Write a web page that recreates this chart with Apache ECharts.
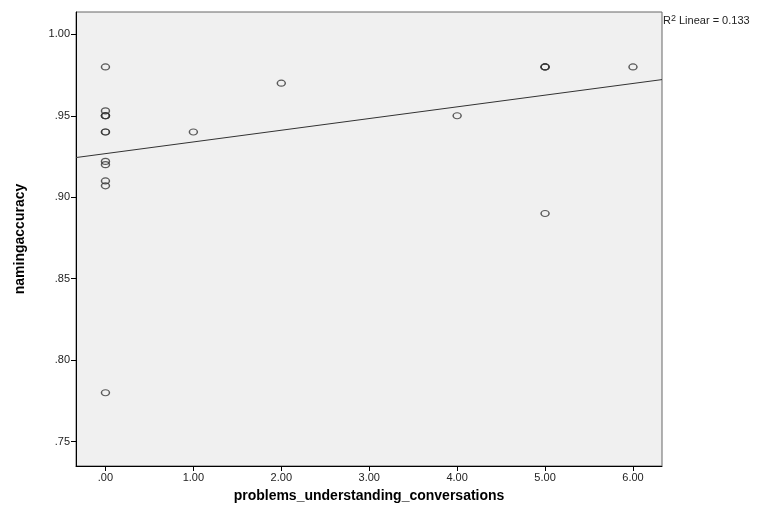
<!DOCTYPE html>
<html><head><meta charset="utf-8">
<script src="https://cdn.jsdelivr.net/npm/echarts@6/dist/echarts.min.js"></script>
<style>html,body{margin:0;padding:0;background:#fff}#c{width:771px;height:516px}</style>
</head><body><div id="c"></div>
<script>
// data
const xValues = [0,0,0,0,0,0,0,0,0,0,0,0, 1, 2, 4, 5,5,5, 5, 6];
const yValues = [0.98,0.953,0.95,0.95,0.94,0.94,0.922,0.92,0.91,0.907,0.78,0.95, 0.94, 0.97, 0.95, 0.98,0.98,0.98, 0.89, 0.98];
const xTicks = [0,1,2,3,4,5,6];
const yTicks = [0.75,0.80,0.85,0.90,0.95,1.00];
const r2Text = '0.133';

const points = xValues.map((x,i)=>[x,yValues[i]]);
// least squares fit
const n = points.length;
const mx = xValues.reduce((a,b)=>a+b,0)/n;
const my = yValues.reduce((a,b)=>a+b,0)/n;
let sxy=0,sxx=0;
points.forEach(([x,y])=>{sxy+=(x-mx)*(y-my);sxx+=(x-mx)*(x-mx);});
const slope = sxy/sxx, intercept = my - slope*mx;
const xMin=-0.335, xMax=6.33, yMin=0.735, yMax=1.0137;
const fitLine = [[xMin, intercept+slope*xMin],[xMax, intercept+slope*xMax]];

const chart = echarts.init(document.getElementById('c'));
const font = 'Liberation Sans, Arial, sans-serif';
chart.setOption({
  animation:false,
  grid:{left:76,top:12,right:109,bottom:50,show:true,backgroundColor:'#f0f0f0',borderColor:'#666',borderWidth:1},
  xAxis:{type:'value',min:xMin,max:xMax,
    name:'problems_understanding_conversations',nameLocation:'middle',nameGap:23,
    nameTextStyle:{fontFamily:font,fontSize:14,fontWeight:'bold',color:'#000'},
    axisLine:{show:true,onZero:false,lineStyle:{color:'#000',width:1}},
    axisTick:{show:true,length:5,lineStyle:{color:'#000'},customValues:xTicks},
    axisLabel:{customValues:xTicks,fontFamily:font,fontSize:11,color:'#222',margin:6,
      formatter:v=>v===0?'.00':v.toFixed(2)},
    splitLine:{show:false}},
  yAxis:{type:'value',min:yMin,max:yMax,
    name:'namingaccuracy',nameLocation:'middle',nameGap:49,nameRotate:90,
    nameTextStyle:{fontFamily:font,fontSize:14,fontWeight:'bold',color:'#000'},
    axisLine:{show:true,onZero:false,lineStyle:{color:'#000',width:1}},
    axisTick:{show:true,length:5,lineStyle:{color:'#000'},customValues:yTicks},
    axisLabel:{customValues:yTicks,fontFamily:font,fontSize:11,color:'#222',margin:6,
      formatter:v=>v.toFixed(2).replace(/^0/,'')},
    splitLine:{show:false}},
  series:[
    {type:'line',data:fitLine,symbol:'none',lineStyle:{color:'#333',width:1},silent:true,z:1},
    {type:'scatter',data:points,symbol:'circle',symbolSize:[8,6],
      itemStyle:{color:'rgba(0,0,0,0)',borderColor:'#333',borderWidth:1.3},z:2}
  ],
  graphic:[{type:'text',left:663,top:14,style:{
    text:'{b|R}{s|2}{b| Linear = '+r2Text+'}',
    rich:{b:{fontFamily:font,fontSize:11,fill:'#222'},s:{fontFamily:font,fontSize:9,fill:'#222',verticalAlign:'top',padding:[0,0,4,0]}}}}]
});
</script></body></html>
